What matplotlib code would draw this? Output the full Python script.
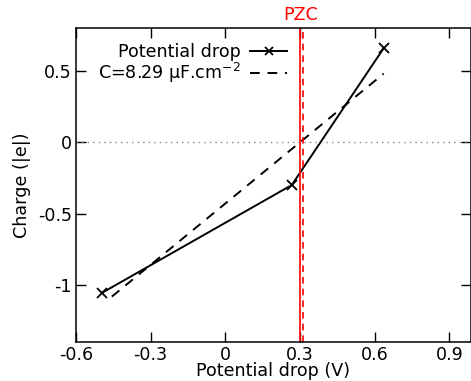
import matplotlib
matplotlib.use("Agg")
import matplotlib.pyplot as plt

# Computed charge vs potential drop
potential = [-0.495, 0.267, 0.636]
charge = [-1.055, -0.30, 0.658]

# Linear capacitance fit (C = 8.29 uF/cm^2), endpoints
fit_potential = [-0.456, 0.636]
fit_charge = [-1.082, 0.48]

# Point of zero charge
pzc_solid = 0.299
pzc_dashed = 0.311

xticks = [-0.6, -0.3, 0, 0.3, 0.6, 0.9]
xtick_labels = ["-0.6", "-0.3", "0", "0.3", "0.6", "0.9"]
yticks = [-1, -0.5, 0, 0.5]
ytick_labels = ["-1", "-0.5", "0", "0.5"]

FS = 12.6
plt.rcParams["font.family"] = ["DejaVu Sans"]
fig = plt.figure(figsize=(4.71, 3.81), dpi=100)
ax = fig.add_axes([76 / 471, 39 / 381, (471 - 76) / 471, (342 - 28) / 381])

ax.plot(potential, charge, color="black", lw=1.4, marker="x", ms=7, mew=1.3,
        label="Potential drop")
ax.plot(fit_potential, fit_charge, color="black", lw=1.4, ls=(0, (5, 4)),
        label="C=8.29 μF.cm$^{-2}$")
ax.axhline(0, color="#888888", lw=1.0, ls=(0, (1, 3)))
ax.axvline(pzc_solid, color="red", lw=1.2)
ax.axvline(pzc_dashed, color="red", lw=1.2, ls=(0, (4, 3)))

ax.set_xlim(-0.6, 0.987)
ax.set_ylim(-1.4, 0.8)
ax.set_xticks(xticks, xtick_labels)
ax.set_yticks(yticks, ytick_labels)
ax.tick_params(direction="in", top=True, right=True, length=7, width=1,
               labelsize=FS, pad=3)
for s in ax.spines.values():
    s.set_linewidth(1.1)

xl = ax.set_xlabel("Potential drop (V)", fontsize=FS)
xl.set_verticalalignment("bottom")
ax.xaxis.set_label_coords(0.5, 0.5 / 381, transform=fig.transFigure)
ax.xaxis.label.set_x(273.5 / 471)
ax.set_ylabel("Charge (|e|)", fontsize=FS, labelpad=5)
ax.text(pzc_solid + 0.004, 1.012, "PZC", color="red", fontsize=FS,
        ha="center", va="bottom", transform=ax.get_xaxis_transform())

leg = ax.legend(loc="upper right", bbox_to_anchor=(287 / 471, 1 - 43 / 381),
                bbox_transform=fig.transFigure, frameon=False,
                markerfirst=False, fontsize=FS, handlelength=2.1,
                handletextpad=0.55, labelspacing=0.0, borderaxespad=0,
                borderpad=0, markerscale=0.75)
for t in leg.get_texts():
    t.set_ha("right")
leg._legend_box.align = "right"

fig.savefig("out.png", dpi=100)
